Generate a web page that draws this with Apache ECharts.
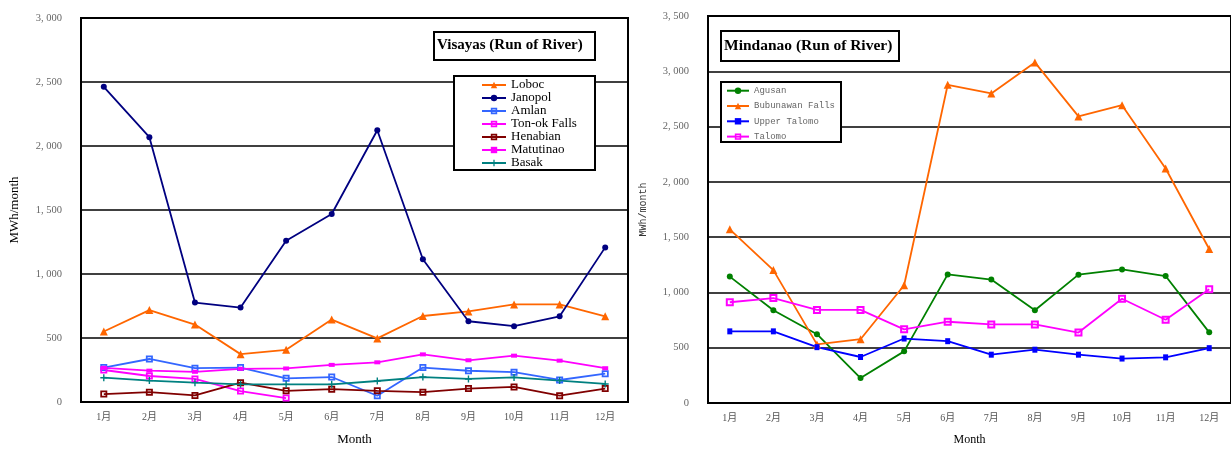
<!DOCTYPE html>
<html><head><meta charset="utf-8">
<script src="https://cdn.jsdelivr.net/npm/echarts@6/dist/echarts.min.js"></script>
<style>html,body{margin:0;padding:0;background:#fff}#c{width:1231px;height:451px}</style>
</head><body><div id="c"></div>
<script>
const months = ['1月','2月','3月','4月','5月','6月','7月','8月','9月','10月','11月','12月'];
// Visayas (Run of River)
const loboc     = [551, 718, 605, 374, 408, 644, 497, 672, 708, 762, 762, 669];
const janopol   = [2462, 2069, 777, 738, 1259, 1469, 2123, 1115, 631, 592, 669, 1208];
const amlan     = [269, 336, 264, 269, 185, 195, 49, 269, 244, 233, 172, 221];
const tonok     = [250, 203, 180, 85, 31, null, null, null, null, null, null, null];
const henabian  = [62, 77, 51, 151, 87, 100, 87, 77, 105, 118, 49, 105];
const matutinao = [267, 245, 236, 259, 262, 290, 310, 372, 326, 362, 323, 264];
const basak     = [190, 167, 151, 138, 138, 138, 164, 195, 180, 192, 167, 141];
// Mindanao (Run of River)
const agusan     = [1143, 839, 622, 226, 467, 1163, 1116, 839, 1161, 1208, 1148, 639];
const bubunawan  = [1571, 1202, 530, 577, 1065, 2878, 2800, 3080, 2592, 2693, 2121, 1393];
const upperTalomo= [648, 648, 505, 416, 583, 559, 437, 482, 437, 402, 413, 496];
const talomo     = [911, 949, 842, 842, 666, 735, 711, 711, 637, 943, 753, 1029];

const serif = "'Liberation Serif', 'Noto Sans CJK SC', serif";
const mono = "'Liberation Mono', 'DejaVu Sans Mono', monospace";
const plus = 'path://M4,0H6V4H10V6H6V10H4V6H0V4H4Z';
const ring = 'path://M0,0H10V10H0ZM2.5,2.5V7.5H7.5V2.5Z';
const fmt = v => v >= 1000 ? Math.floor(v/1000) + ', ' + String(v % 1000).padStart(3, '0') : String(v);

function xAxis(gi, nameSize, nameFont) {
  return {
    type: 'category', gridIndex: gi, data: months, boundaryGap: true,
    name: 'Month', nameLocation: 'middle', nameGap: 31,
    nameTextStyle: {fontFamily: nameFont, fontSize: nameSize, color: '#000'},
    axisLine: {lineStyle: {color: '#000', width: 2}},
    axisTick: {inside: true, length: 5, lineStyle: {color: '#000', width: 1.5}},
    axisLabel: {fontFamily: serif, fontSize: 10, color: '#555', margin: 10},
    splitLine: {show: false}
  };
}
function yAxis(gi, max, nameFont, nameSize, nameColor) {
  return {
    type: 'value', gridIndex: gi, min: 0, max: max, interval: 500,
    name: 'MWh/month', nameLocation: 'middle', nameGap: 60,
    nameTextStyle: {fontFamily: nameFont, fontSize: nameSize, color: nameColor},
    axisLine: {show: true, lineStyle: {color: '#000', width: 2}},
    axisTick: {show: false},
    axisLabel: {fontFamily: serif, fontSize: 10.5, color: '#666', margin: 19, formatter: fmt},
    splitLine: {lineStyle: {color: '#000', width: 1.5}}
  };
}
function line(name, data, color, symbol, size, gi) {
  return {
    name: name, type: 'line', data: data, xAxisIndex: gi, yAxisIndex: gi,
    symbol: symbol, symbolSize: size, showSymbol: true, connectNulls: false,
    lineStyle: {color: color, width: 1.8, type: 'solid'},
    itemStyle: {color: color},
    color: color
  };
}

const chart = echarts.init(document.getElementById('c'), null, {renderer: 'canvas'});
chart.setOption({
  animation: false,
  backgroundColor: '#fff',
  grid: [
    {left: 81, top: 18, width: 547, height: 390, show: true, borderColor: '#000', borderWidth: 2},
    {left: 708, top: 16, width: 529, height: 392, show: true, borderColor: '#000', borderWidth: 2}
  ],
  title: [
    {text: 'Visayas (Run of River)', left: 437, top: 38, padding: 0,
     textStyle: {fontFamily: serif, fontWeight: 'bold', fontSize: 15, color: '#000'}},
    {text: 'Mindanao (Run of River)', left: 724, top: 38, padding: 0,
     textStyle: {fontFamily: serif, fontWeight: 'bold', fontSize: 15.5, color: '#000'}}
  ],
  graphic: [
    {type: 'rect', z: 3, shape: {x: 434, y: 32, width: 161, height: 28}, style: {fill: '#fff', stroke: '#000', lineWidth: 2}},
    {type: 'rect', z: 3, shape: {x: 454, y: 76, width: 141, height: 94}, style: {fill: '#fff', stroke: '#000', lineWidth: 2}},
    {type: 'rect', z: 3, shape: {x: 721, y: 31, width: 178, height: 30}, style: {fill: '#fff', stroke: '#000', lineWidth: 2}},
    {type: 'rect', z: 3, shape: {x: 721, y: 82, width: 120, height: 60}, style: {fill: '#fff', stroke: '#000', lineWidth: 2}}
  ],
  legend: [
    {orient: 'vertical', left: 481, top: 78.5, padding: 0, itemGap: 0, itemWidth: 24, itemHeight: 8, z: 5,
     data: ['Loboc','Janopol','Amlan','Ton-ok Falls','Henabian','Matutinao','Basak'],
     textStyle: {fontFamily: serif, fontSize: 13, lineHeight: 13, color: '#000'}},
    {orient: 'vertical', left: 726, top: 85.2, padding: 0, itemGap: 4.3, itemWidth: 22, itemHeight: 8, z: 5,
     data: ['Agusan','Bubunawan Falls','Upper Talomo','Talomo'],
     textStyle: {fontFamily: mono, fontSize: 9, lineHeight: 11, color: '#666'}}
  ],
  xAxis: [xAxis(0, 13, serif), xAxis(1, 12, serif)],
  yAxis: [yAxis(0, 3000, serif, 13, '#000'), yAxis(1, 3500, mono, 10, '#333')],
  series: [
    line('Loboc', loboc, '#FF6600', 'triangle', 8, 0),
    line('Janopol', janopol, '#000080', 'circle', 6, 0),
    line('Amlan', amlan, '#3366FF', ring, 7, 0),
    line('Ton-ok Falls', tonok, '#FF00FF', ring, 7, 0),
    line('Henabian', henabian, '#800000', ring, 7, 0),
    line('Matutinao', matutinao, '#FF00FF', 'rect', [6, 4], 0),
    line('Basak', basak, '#008080', plus, 7, 0),
    line('Agusan', agusan, '#008000', 'circle', 6, 1),
    line('Bubunawan Falls', bubunawan, '#FF6600', 'triangle', 8, 1),
    line('Upper Talomo', upperTalomo, '#0000FF', 'rect', [5, 6], 1),
    line('Talomo', talomo, '#FF00FF', ring, 8, 1)
  ]
});
</script></body></html>
